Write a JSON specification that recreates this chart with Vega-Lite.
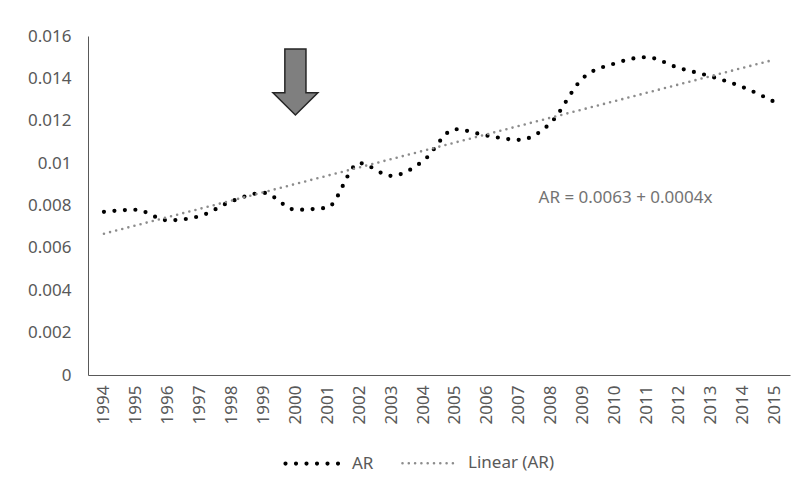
{
  "$schema": "https://vega.github.io/schema/vega-lite/v6.json",
  "width": 702,
  "height": 339,
  "autosize": {"type": "none"},
  "padding": {"left": 88, "top": 36, "right": 12, "bottom": 113},
  "background": "white",
  "config": {
    "view": {"stroke": null},
    "font": "Noto Sans",
    "axis": {"grid": false, "ticks": false, "domainColor": "#595959", "labelColor": "#595959", "labelFontSize": 17, "labelFont": "Noto Sans", "title": null},
    "legend": {"labelFont": "Noto Sans", "labelFontSize": 17, "labelColor": "#595959"}
  },
  "layer": [
    {
      "data": {
        "values": [
          {"year": "1994", "value": 0.0077, "series": "AR"},
          {"year": "1995", "value": 0.0078, "series": "AR"},
          {"year": "1996", "value": 0.0073, "series": "AR"},
          {"year": "1997", "value": 0.0075, "series": "AR"},
          {"year": "1998", "value": 0.0082, "series": "AR"},
          {"year": "1999", "value": 0.0086, "series": "AR"},
          {"year": "2000", "value": 0.0078, "series": "AR"},
          {"year": "2001", "value": 0.0079, "series": "AR"},
          {"year": "2002", "value": 0.0100, "series": "AR"},
          {"year": "2003", "value": 0.0094, "series": "AR"},
          {"year": "2004", "value": 0.0101, "series": "AR"},
          {"year": "2005", "value": 0.0116, "series": "AR"},
          {"year": "2006", "value": 0.0113, "series": "AR"},
          {"year": "2007", "value": 0.0111, "series": "AR"},
          {"year": "2008", "value": 0.0119, "series": "AR"},
          {"year": "2009", "value": 0.0140, "series": "AR"},
          {"year": "2010", "value": 0.0147, "series": "AR"},
          {"year": "2011", "value": 0.0150, "series": "AR"},
          {"year": "2012", "value": 0.0145, "series": "AR"},
          {"year": "2013", "value": 0.0141, "series": "AR"},
          {"year": "2014", "value": 0.0136, "series": "AR"},
          {"year": "2015", "value": 0.0129, "series": "AR"},
          {"year": "1994", "value": 0.00667, "series": "Linear (AR)"},
          {"year": "2015", "value": 0.01488, "series": "Linear (AR)"}
        ]
      },
      "mark": {"type": "line", "interpolate": "monotone", "strokeCap": "round"},
      "encoding": {
        "x": {
          "field": "year", "type": "ordinal",
          "scale": {"type": "point", "padding": 0.5},
          "axis": {"labelAngle": 270, "labelPadding": 10, "domainWidth": 1}
        },
        "y": {
          "field": "value", "type": "quantitative",
          "scale": {"domain": [0, 0.016], "nice": false, "zero": true},
          "axis": {"values": [0, 0.002, 0.004, 0.006, 0.008, 0.01, 0.012, 0.014, 0.016], "format": ".3~f", "labelPadding": 17}
        },
        "color": {
          "field": "series", "type": "nominal",
          "scale": {"domain": ["AR", "Linear (AR)"], "range": ["#000000", "#8c8c8c"]},
          "legend": {
            "title": null, "orient": "none", "direction": "horizontal",
            "legendX": 195, "legendY": 397,
            "symbolType": "stroke", "symbolSize": 3136,
            "labelOffset": 8, "columnPadding": 23,
            "encode": {"symbols": {"update": {"strokeCap": {"value": "round"}}}}
          }
        },
        "strokeDash": {
          "field": "series", "type": "nominal",
          "scale": {"domain": ["AR", "Linear (AR)"], "range": [[0, 10.5], [0, 6.3]]}
        },
        "strokeWidth": {
          "field": "series", "type": "nominal",
          "scale": {"domain": ["AR", "Linear (AR)"], "range": [4.2, 2.6]}
        }
      }
    },
    {
      "data": {"values": [{}]},
      "mark": {"type": "text", "fontSize": 17, "font": "Noto Sans", "fontWeight": "normal", "fill": "#737373", "align": "center", "baseline": "middle", "dx": 11},
      "encoding": {
        "x": {"datum": "2010"},
        "y": {"datum": 0.00835},
        "text": {"value": "AR = 0.0063 + 0.0004x"}
      }
    },
    {
      "data": {"values": [{}]},
      "mark": {
        "type": "point",
        "shape": "M -0.32 -1 L 0.32 -1 L 0.32 0.33 L 0.68 0.33 L 0 1 L -0.68 0.33 L -0.32 0.33 Z",
        "size": 4356, "filled": true, "fill": "#7f7f7f", "stroke": "#262626", "strokeWidth": 1.5, "opacity": 1
      },
      "encoding": {
        "x": {"datum": "2000"},
        "y": {"datum": 0.01383}
      }
    }
  ]
}
